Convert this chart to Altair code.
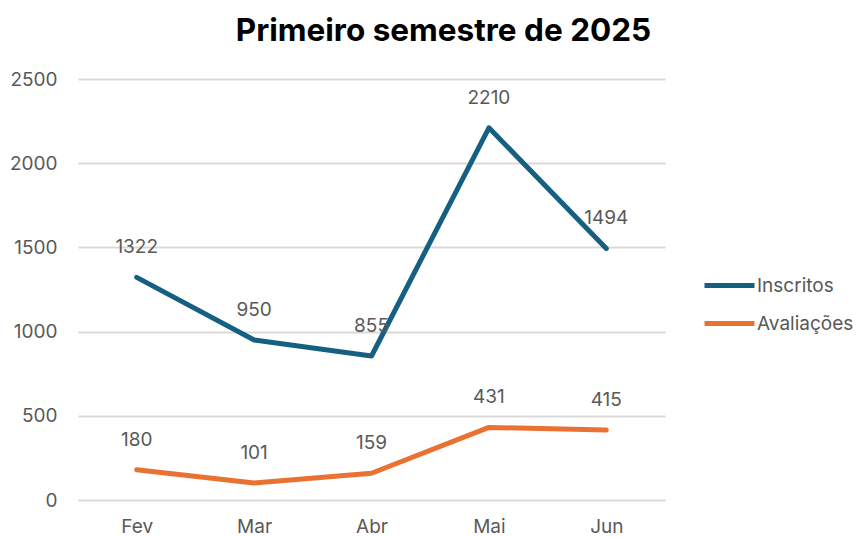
import altair as alt
import pandas as pd

months = ["Fev", "Mar", "Abr", "Mai", "Jun"]
inscritos = [1322, 950, 855, 2210, 1494]
avaliacoes = [180, 101, 159, 431, 415]
series_names = ["Inscritos", "Avaliações"]
series_colors = ["#156082", "#E97132"]

rows = []
for m, a, b in zip(months, inscritos, avaliacoes):
    rows.append({"mes": m, "serie": series_names[0], "valor": a})
    rows.append({"mes": m, "serie": series_names[1], "valor": b})
df = pd.DataFrame(rows)

FONT = "Inter"
GREY = "#595959"
FS = 19

x = alt.X("mes:N", sort=months, title=None,
          scale=alt.Scale(type="point", padding=0.5),
          axis=alt.Axis(labelAngle=0, labelFontSize=FS, labelColor=GREY, labelFont=FONT,
                        ticks=False, domain=False, labelPadding=17, grid=False))
y = alt.Y("valor:Q", title=None,
          scale=alt.Scale(domain=[0, 2500], nice=False),
          axis=alt.Axis(values=[0, 500, 1000, 1500, 2000, 2500], format="d",
                        labelFontSize=FS, labelColor=GREY,
                        labelFont=FONT, ticks=False, domain=False, labelPadding=21,
                        gridColor="#d9d9d9", gridWidth=2))
color = alt.Color("serie:N", sort=series_names,
                  scale=alt.Scale(domain=series_names, range=series_colors),
                  legend=alt.Legend(title=None, orient="none", legendX=624, legendY=179,
                                    symbolType="stroke", symbolSize=2500, symbolStrokeWidth=5,
                                    labelFontSize=FS, labelColor=GREY, labelFont=FONT,
                                    labelOffset=0, rowPadding=-6))

base = alt.Chart(df)
lines = base.mark_line(strokeWidth=5, strokeCap="round", strokeJoin="round").encode(
    x=x, y=y, color=color)
labels = base.mark_text(dy=-30, fontSize=FS, color=GREY, font=FONT, baseline="middle").encode(
    x=alt.X("mes:N", sort=months), y="valor:Q", text="valor:Q")

chart = alt.layer(lines, labels).properties(
    width=587, height=421,
    title=alt.TitleParams("Primeiro semestre de 2025", fontSize=31.5, font=FONT, fontWeight="bold",
                          color="#000000", anchor="middle", dx=72, offset=23),
    padding={"left": 70, "top": 71, "right": 194, "bottom": 45},
    autosize=alt.AutoSizeParams(type="none"),
).configure_view(stroke=None)

chart.save("out.html", embed_options={"renderer": "svg", "actions": False})
